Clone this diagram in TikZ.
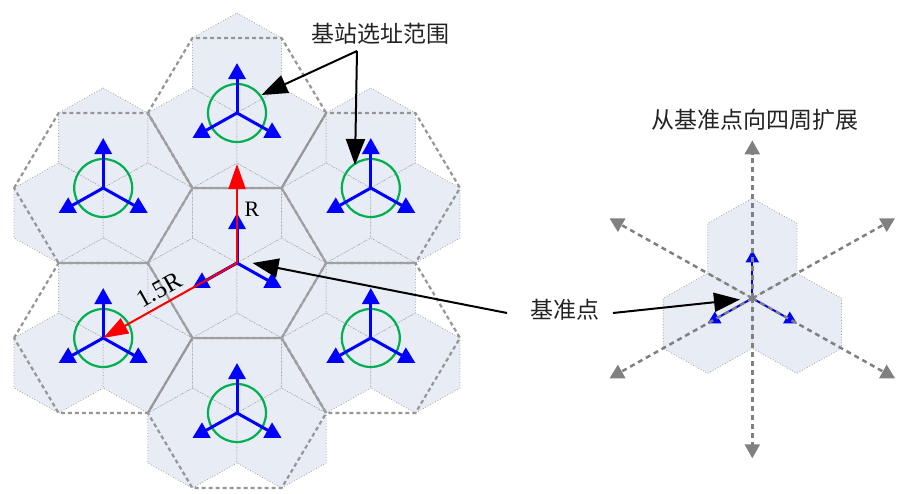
\documentclass[tikz,border=0pt]{standalone}
\usepackage{fontspec}
\setmainfont{Liberation Serif}
\newfontfamily\cjk{Noto Sans CJK SC}
\usetikzlibrary{arrows.meta,calc}

\definecolor{hexfill}{RGB}{232,236,244}
\definecolor{hexline}{RGB}{160,160,160}
\definecolor{vorline}{RGB}{150,150,150}
\definecolor{solline}{RGB}{160,160,160}
\definecolor{cgreen}{RGB}{0,176,80}
\definecolor{cblue}{RGB}{0,0,255}
\definecolor{cred}{RGB}{255,0,0}
\definecolor{cgray}{RGB}{128,128,128}
\definecolor{txt}{RGB}{35,35,35}

\newcommand\cellhex{\path[cellstyle] (0,-50) -- (43.301,-25) -- (43.301,25) -- (0,50) -- (-43.301,25) -- (-43.301,-25) -- cycle;}
\newcommand\sitecells{%
  \foreach \cx/\cy in {0/-50,-43.301/25,43.301/25}{%
    \begin{scope}[shift={(\cx,\cy)}]\cellhex\end{scope}}}
\newcommand\vorhex[1]{\path[#1] (-86.603,0) -- (-43.301,-75) -- (43.301,-75) -- (86.603,0) -- (43.301,75) -- (-43.301,75) -- cycle;}

\begin{document}
\begin{tikzpicture}[x=1pt,y=-1pt,
  cellstyle/.style={fill=hexfill, draw=hexline, line width=0.8pt, dotted},
  vordash/.style={draw=vorline, line width=2.2pt, dash pattern=on 4pt off 3pt},
  vorsolid/.style={draw=solline, line width=2pt},
  ant/.style={draw=cblue, line width=3pt, line cap=round, -{Triangle[length=16pt,width=17pt]}},
  smallant/.style={draw=cblue, line width=2pt, line cap=round, -{Triangle[length=12pt,width=13pt]}},
  coverage/.style={draw=cgreen, line width=2.2pt},
  radiusarrow/.style={draw=cred, line width=2pt, -{Triangle[length=25pt,width=17pt]}},
  callout/.style={draw=black, line width=2pt, -{Triangle[length=26pt,width=19pt]}},
  spread/.style={draw=cgray, line width=2.5pt, dash pattern=on 5pt off 4pt, -{Triangle[length=14pt,width=15pt]}},
  cjklabel/.style={font=\cjk\fontsize{23}{28}\selectfont, text=txt, inner sep=1pt},
  rlabel/.style={font=\fontsize{22}{26}\selectfont, text=black, inner sep=1pt},
]
\useasboundingbox (0,0) rectangle (900,493);

% site positions
\coordinate (C)  at (237,263);
\coordinate (ST) at (237,113);
\coordinate (SB) at (237,413);
\coordinate (SUL) at (103.2,188);
\coordinate (SLL) at (103.2,338);
\coordinate (SUR) at (370.8,188);
\coordinate (SLR) at (370.8,338);
\coordinate (RC) at (752.3,298.3);

% cells
\foreach \s in {C,ST,SB,SUL,SLL,SUR,SLR}{
  \begin{scope}[shift={(\s)},xscale=1.03]\sitecells\end{scope}}

% site regions
\foreach \s in {ST,SB,SUL,SLL,SUR,SLR}{
  \begin{scope}[shift={(\s)},xscale=1.03]\vorhex{vordash}\end{scope}}
\begin{scope}[shift={(C)},xscale=1.03]
  \vorhex{vorsolid}
  \draw[vorsolid] (-43.301,-75) -- (-86.603,-150);
  \draw[vorsolid] (-86.603,0) -- (-173.205,0);
  \draw[vorsolid] (86.603,0) -- (173.205,0);
  \draw[vorsolid] (43.301,75) -- (86.603,150);
\end{scope}

% coverage circles
\foreach \s in {ST,SB,SUL,SLL,SUR,SLR}{
  \draw[coverage] (\s) circle[radius=29];}

% antennas
\foreach \s in {C,ST,SB,SUL,SLL,SUR,SLR}{
  \begin{scope}[shift={(\s)},xscale=1.03]
    \draw[ant] (0,0) -- (0,-50);
    \draw[ant] (0,0) -- (-43.301,25);
    \draw[ant] (0,0) -- (43.301,25);
  \end{scope}}

% radius arrows
\coordinate (Rtip) at (237,164);
\draw[radiusarrow] (C) -- (Rtip);
\draw[radiusarrow] (C) -- (SLL);
\node[rlabel] (Rlab) at (252,209) {R};
\node[rlabel, font=\fontsize{25}{28}\selectfont, rotate=29.3] (R15lab) at (159,290) {1.5R};

% callouts
\node[cjklabel] (lab1) at (380,34) {基站选址范围};
\coordinate (fork) at (357,51);
\coordinate (t1) at (261.5,95);
\coordinate (t2) at (355,165);
\draw[callout] (fork) -- (t1);
\draw[callout] (fork) -- (t2);

\node[cjklabel] (lab2) at (565,310) {基准点};
\coordinate (b1s) at (507,313);
\coordinate (b1t) at (252.5,263);
\coordinate (b2s) at (613,313);
\coordinate (b2t) at (740,299.5);

% right diagram
\begin{scope}[shift={(RC)},xscale=1.03]
  \sitecells
  \draw[smallant] (0,0) -- (0,-48);
  \draw[smallant] (0,0) -- (-43.301,25);
  \draw[smallant] (0,0) -- (43.301,25);
  \coordinate (d1) at (0,-158);
  \coordinate (d2) at (0,160);
  \coordinate (d3) at (138.6,-80);
  \coordinate (d4) at (-138.6,-80);
  \coordinate (d5) at (138.6,80);
  \coordinate (d6) at (-138.6,80);
\end{scope}
\foreach \d in {d1,d2,d3,d4,d5,d6}{\draw[spread] (RC) -- (\d);}
\fill[cgray] (RC) circle[radius=3];

\draw[callout] (b1s) -- (b1t);
\draw[callout] (b2s) -- (b2t);

\node[cjklabel] (lab3) at (755,120) {从基准点向四周扩展};
\end{tikzpicture}
\end{document}
